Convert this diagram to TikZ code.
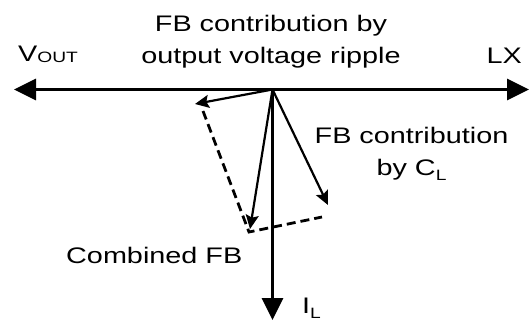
\documentclass[tikz,border=0pt]{standalone}
\usepackage{fontspec}
\setmainfont{Liberation Sans}[FakeStretch=1.28]
\usetikzlibrary{arrows.meta}
\newcommand{\lsub}[2][5pt]{\raisebox{-#1}{\fontsize{15}{15}\selectfont #2}}

\begin{document}
\begin{tikzpicture}[x=1pt, y=-1pt, >={Triangle[length=22pt, width=21pt]},
    axis/.style={line width=3pt},
    vec/.style={line width=2.2pt, -{Stealth[length=14pt, width=13pt, inset=2.5pt]}},
    helper/.style={line width=2.8pt, dash pattern=on 9pt off 5pt},
    every node/.style={inner sep=0pt, font=\fontsize{22.5}{32}\selectfont}]

    \useasboundingbox (0,0) rectangle (530,322);

    % --- 1. 座標の定義 ---
    % O: 原点, Vend/LXend/ILend: 軸の先端
    \coordinate (O)      at (272.5, 89.5);
    \coordinate (Vend)   at (14,    89.5);
    \coordinate (LXend)  at (529,   89.5);
    \coordinate (ILend)  at (272.5, 320);

    % ベクトルの先端
    \coordinate (Ripple) at (195, 104);
    \coordinate (CL)     at (328, 205);
    \coordinate (Comb)   at (250, 229);

    % 平行四辺形の点線の端点
    \coordinate (RippleD) at (203, 111);
    \coordinate (CLD)     at (322, 217);
    \coordinate (CombD)   at (249, 232);

    % --- 2. 軸の描画 ---
    \draw[axis, <->] (Vend) -- (LXend);
    \draw[axis, ->]  (O) -- (ILend);

    % --- 3. ベクトルと点線 ---
    \draw[vec] (O) -- (Ripple);
    \draw[vec] (O) -- (CL);
    \draw[vec] (O) -- (Comb);
    \draw[helper] (RippleD) -- (CombD) -- (CLD);

    % --- 4. ラベル ---
    % 複数行ノードの base は最終行
    \node[anchor=base, align=center] (title) at (271, 63)
        {FB contribution by\\output voltage ripple};
    \node[anchor=base west] (vout) at (18, 61) {V\lsub[1pt]{OUT}};
    \node[anchor=base east] (lx) at (522, 63) {LX};
    \node[anchor=base, align=center] (cltext) at (411.5, 175)
        {FB contribution\\by C\lsub{L}};
    \node[anchor=base west] (combtext) at (66, 263) {Combined FB};
    \node[anchor=base west] (iltext) at (302, 313) {I\lsub{L}};

  \end{tikzpicture}
\end{document}
